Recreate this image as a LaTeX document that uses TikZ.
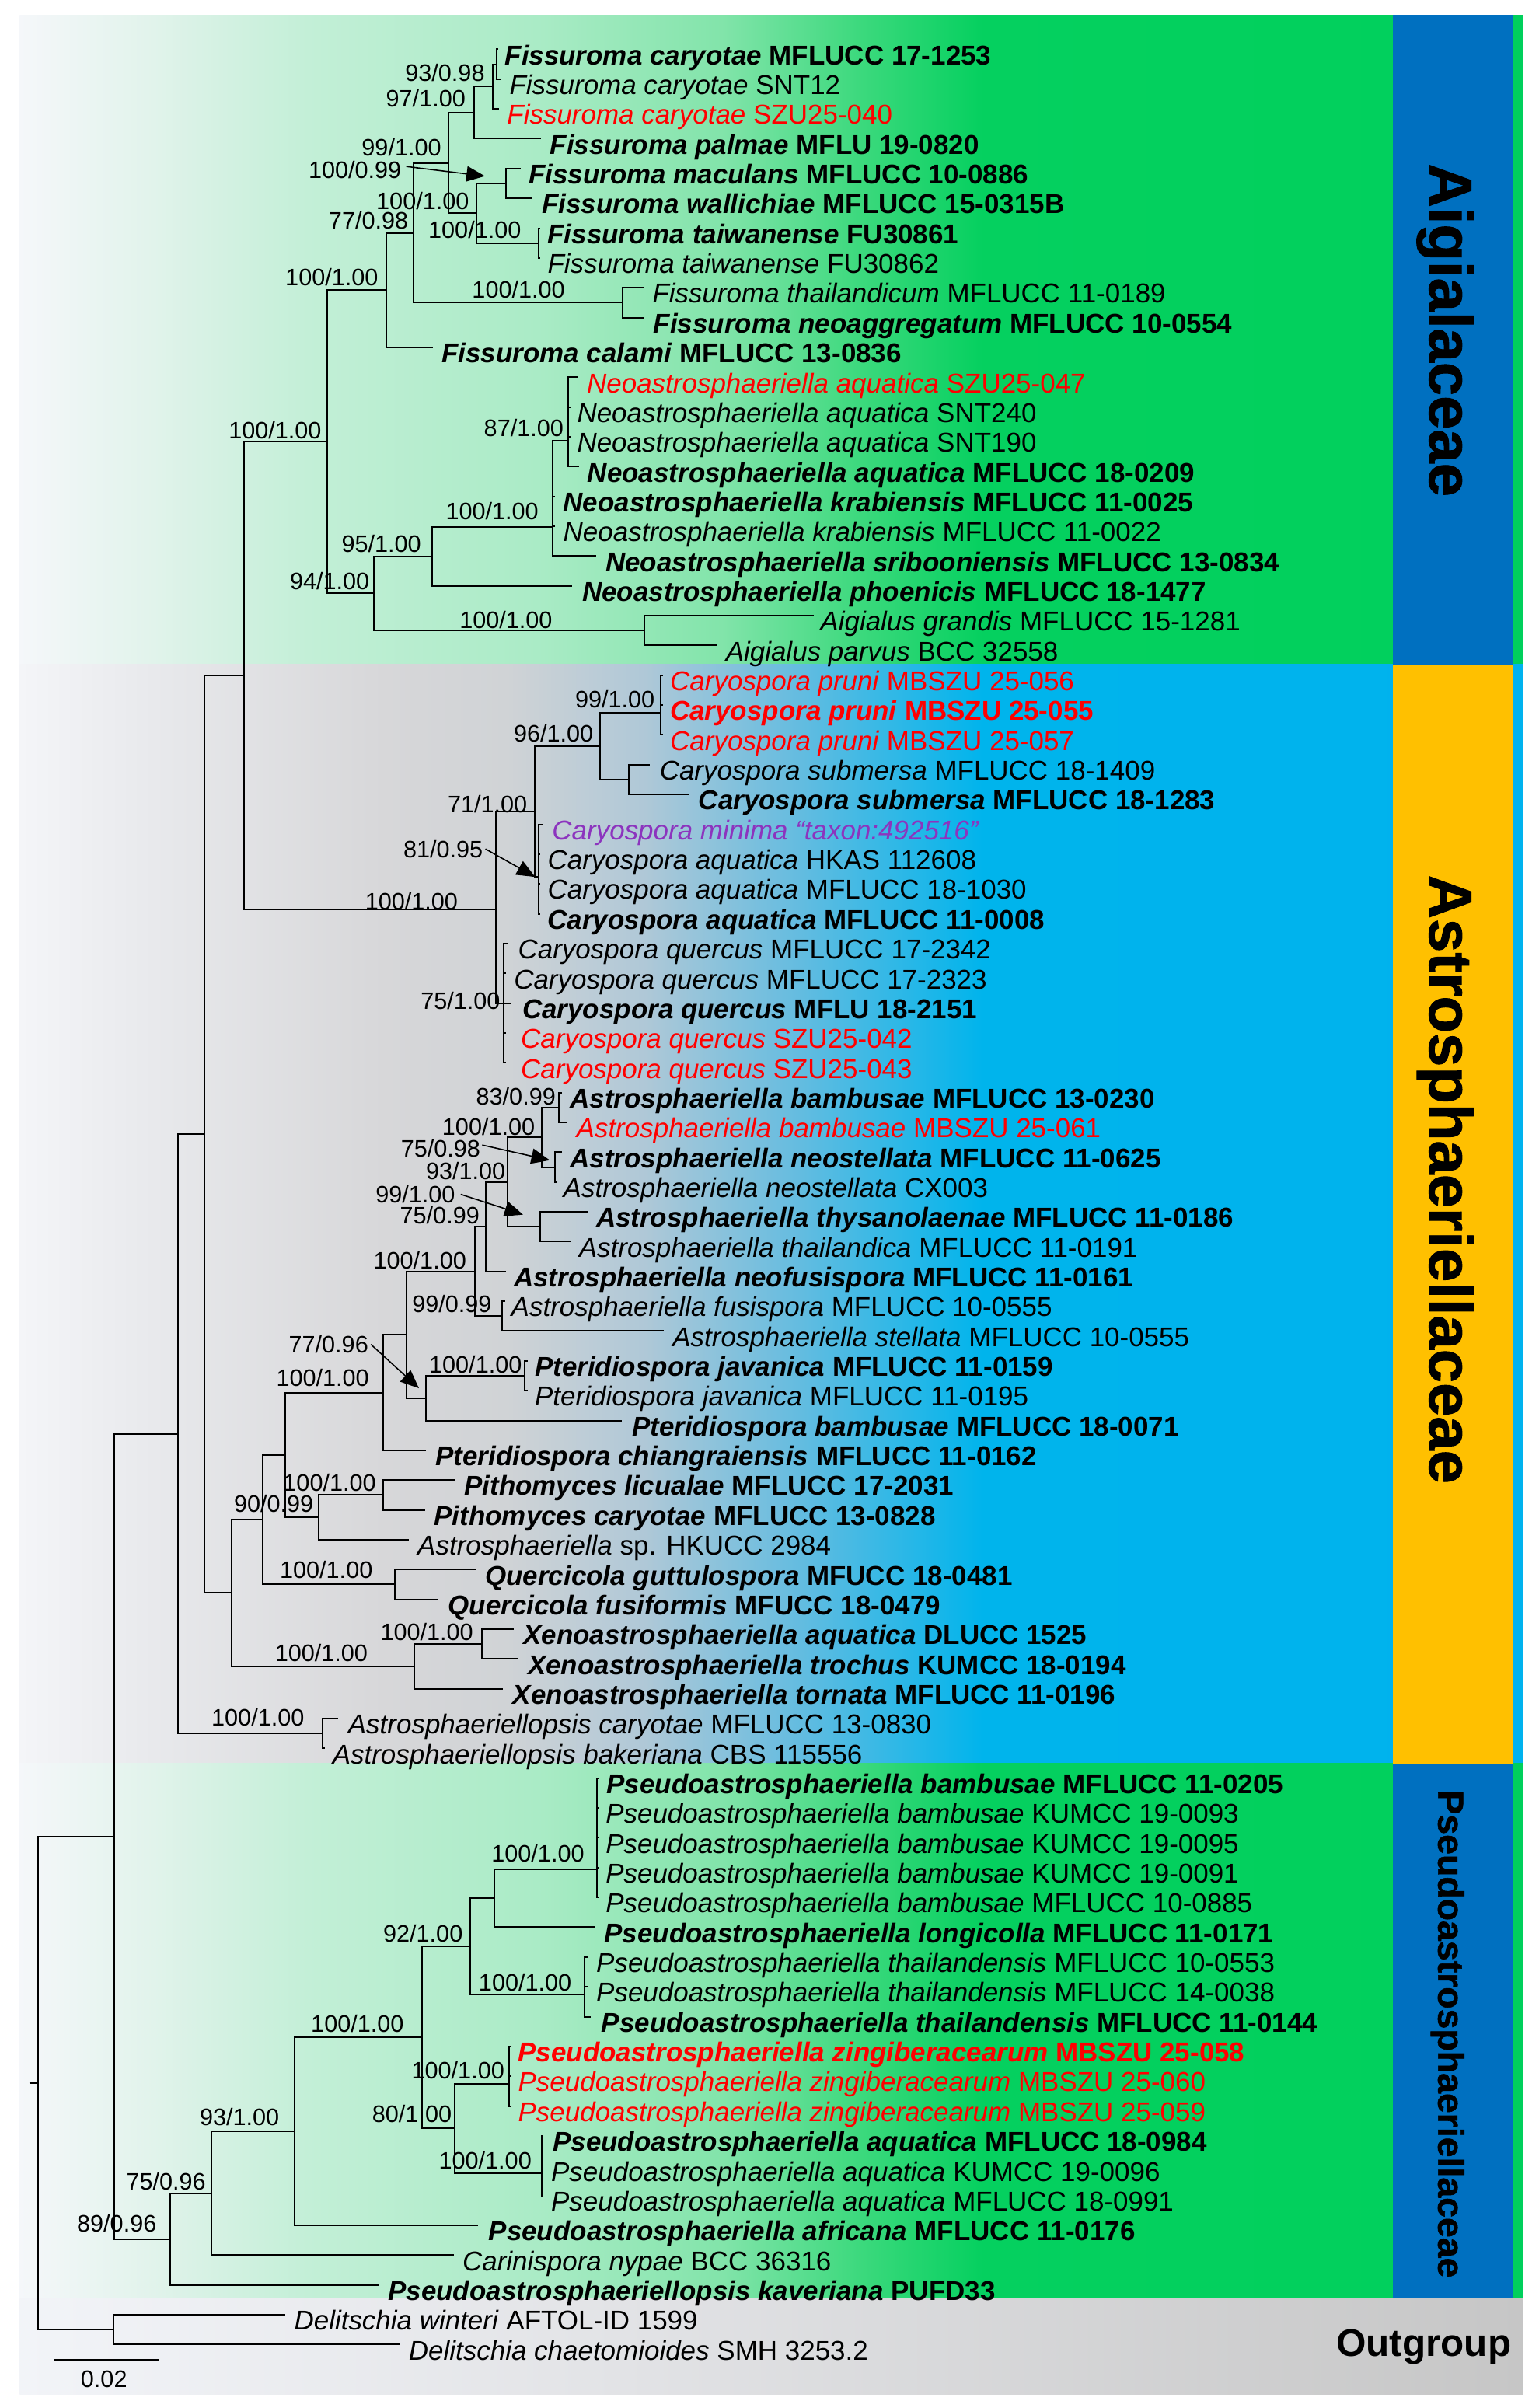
\documentclass[tikz,border=0pt]{standalone}
\usepackage{fontspec}
\usepackage{graphicx}
\setmainfont{Liberation Sans}
\newfontfamily\famfont[BoldFeatures={FakeBold=1.2}]{Liberation Sans}
\usetikzlibrary{arrows.meta}

\definecolor{gA}{RGB}{245,247,250}
\definecolor{gB}{RGB}{225,243,235}
\definecolor{gC}{RGB}{195,239,215}
\definecolor{gD}{RGB}{170,235,198}
\definecolor{gE}{RGB}{130,228,170}
\definecolor{gF}{RGB}{60,217,125}
\definecolor{gG}{RGB}{5,208,95}
\definecolor{gH}{RGB}{0,208,92}
\definecolor{aA}{RGB}{244,245,248}
\definecolor{aB}{RGB}{232,233,236}
\definecolor{aC}{RGB}{215,215,217}
\definecolor{aD}{RGB}{208,211,214}
\definecolor{aE}{RGB}{175,200,215}
\definecolor{aF}{RGB}{100,188,224}
\definecolor{aG}{RGB}{0,180,236}
\definecolor{aH}{RGB}{0,178,238}
\definecolor{oA}{RGB}{242,244,248}
\definecolor{oB}{RGB}{226,227,230}
\definecolor{oC}{RGB}{198,198,198}
\definecolor{barblue}{RGB}{0,112,192}
\definecolor{baryellow}{RGB}{255,192,0}
\definecolor{tred}{RGB}{255,0,0}
\definecolor{tpurple}{RGB}{140,52,190}

\pgfdeclarehorizontalshading{greenband}{100bp}{color(0bp)=(gA); color(25bp)=(gA); color(29.45bp)=(gB); color(34.56bp)=(gC); color(42.22bp)=(gD); color(48.35bp)=(gE); color(52.95bp)=(gF); color(57.04bp)=(gG); color(75bp)=(gH); color(100bp)=(gH)}
\pgfdeclarehorizontalshading{astroband}{100bp}{color(0bp)=(aA); color(25bp)=(aA); color(29.45bp)=(aB); color(37.12bp)=(aC); color(41.2bp)=(aD); color(45.8bp)=(aE); color(50.91bp)=(aF); color(57.04bp)=(aG); color(75bp)=(aH); color(100bp)=(aH)}
\pgfdeclarehorizontalshading{outband}{100bp}{color(0bp)=(oA); color(25bp)=(oA); color(45bp)=(oB); color(75bp)=(oC); color(100bp)=(oC)}

\newcommand\spB[2]{\textbf{\textit{#1} #2}}
\newcommand\spN[2]{\textit{#1} #2}
\newcommand\tip[6][black]{%
  \coordinate (#2) at (#4,{32.1+19.41*(#3-1)});
  \node[tax,text=#1] (#2-t) at (#5,{32.1+19.41*(#3-1)+10}) {#6};}

\begin{document}
\begin{tikzpicture}[x=1pt,y=-1pt,
  tax/.style={inner sep=0pt,anchor=base west,font=\fontsize{17.7}{20}\selectfont},
  lab/.style={inner sep=0pt,anchor=east,font=\fontsize{15.5}{17}\selectfont},
  br/.style={line width=1pt,black},
  arr/.style={line width=0.8pt,black,-{Triangle[length=12pt,width=10pt]}},
  fam/.style={inner sep=0pt,anchor=base,rotate=-90,font=\famfont\bfseries\fontsize{39.4}{42}\selectfont}]
\useasboundingbox (0,0) rectangle (1002,1568);
\fill[white] (0,0) rectangle (1002,1568);

% background bands
\shade[shading=greenband] (12.8,9.7) rectangle (991.7,432.5);
\shade[shading=astroband] (12.8,432.5) rectangle (991.7,1148.4);
\shade[shading=greenband] (12.8,1148.4) rectangle (991.7,1496.8);
\shade[shading=outband] (12.8,1496.8) rectangle (991.7,1559);
\fill[barblue] (907,9.7) rectangle (984.8,432.5);
\fill[baryellow] (907,432.5) rectangle (984.8,1148.4);
\fill[barblue] (907,1148.4) rectangle (984.8,1496.8);

\node[fam] (famA) at (930.8,215) {Aigialaceae};
\node[fam] (famB) at (930.8,768) {Astrosphaeriellaceae};
\node[fam,font=\famfont\bfseries\fontsize{23.5}{25}\selectfont] (famC) at (936.5,1324.5) {Pseudoastrosphaeriellaceae};
\node[inner sep=0pt,anchor=base west,font=\bfseries\fontsize{25}{27}\selectfont] (famD) at (870,1534.4) {Outgroup};

% tips
\tip{t1}{1}{324.5}{328.6}{\spB{Fissuroma caryotae}{MFLUCC 17-1253}}
\tip{t2}{2}{326.5}{331.6}{\spN{Fissuroma caryotae}{SNT12}}
\tip[tred]{t3}{3}{325}{330}{\spN{Fissuroma caryotae}{SZU25-040}}
\tip{t4}{4}{352.4}{358}{\spB{Fissuroma palmae}{MFLU 19-0820}}
\tip{t5}{5}{339}{344}{\spB{Fissuroma maculans}{MFLUCC 10-0886}}
\tip{t6}{6}{346.7}{352.6}{\spB{Fissuroma wallichiae}{MFLUCC 15-0315B}}
\tip{t7}{7}{352}{356.4}{\spB{Fissuroma taiwanense}{FU30861}}
\tip{t8}{8}{352}{356.4}{\spN{Fissuroma taiwanense}{FU30862}}
\tip{t9}{9}{419.7}{424.7}{\spN{Fissuroma thailandicum}{MFLUCC 11-0189}}
\tip{t10}{10}{419.7}{425.4}{\spB{Fissuroma neoaggregatum}{MFLUCC 10-0554}}
\tip{t11}{11}{281.9}{287.5}{\spB{Fissuroma calami}{MFLUCC 13-0836}}
\tip[tred]{t12}{12}{376.8}{382}{\spN{Neoastrosphaeriella aquatica}{SZU25-047}}
\tip{t13}{13}{371.5}{375.6}{\spN{Neoastrosphaeriella aquatica}{SNT240}}
\tip{t14}{14}{371.5}{375.6}{\spN{Neoastrosphaeriella aquatica}{SNT190}}
\tip{t15}{15}{377}{382.4}{\spB{Neoastrosphaeriella aquatica}{MFLUCC 18-0209}}
\tip{t16}{16}{361.5}{366.6}{\spB{Neoastrosphaeriella krabiensis}{MFLUCC 11-0025}}
\tip{t17}{17}{361.5}{366.6}{\spN{Neoastrosphaeriella krabiensis}{MFLUCC 11-0022}}
\tip{t18}{18}{388}{394.2}{\spB{Neoastrosphaeriella sribooniensis}{MFLUCC 13-0834}}
\tip{t19}{19}{372.3}{379}{\spB{Neoastrosphaeriella phoenicis}{MFLUCC 18-1477}}
\tip{t20}{20}{530}{534}{\spN{Aigialus grandis}{MFLUCC 15-1281}}
\tip{t21}{21}{467}{472.4}{\spN{Aigialus parvus}{BCC 32558}}
\tip[tred]{t22}{22}{431.5}{436.2}{\spN{Caryospora pruni}{MBSZU 25-056}}
\tip[tred]{t23}{23}{431.5}{436.2}{\spB{Caryospora pruni}{MBSZU 25-055}}
\tip[tred]{t24}{24}{431.5}{436.2}{\spN{Caryospora pruni}{MBSZU 25-057}}
\tip{t25}{25}{423.1}{429.4}{\spN{Caryospora submersa}{MFLUCC 18-1409}}
\tip{t26}{26}{448.4}{454.7}{\spB{Caryospora submersa}{MFLUCC 18-1283}}
\tip[tpurple]{t27}{27}{354}{359.4}{\textit{Caryospora minima “taxon:492516”}}
\tip{t28}{28}{352}{356.4}{\spN{Caryospora aquatica}{HKAS 112608}}
\tip{t29}{29}{352}{356.4}{\spN{Caryospora aquatica}{MFLUCC 18-1030}}
\tip{t30}{30}{352}{356.4}{\spB{Caryospora aquatica}{MFLUCC 11-0008}}
\tip{t31}{31}{331}{337.2}{\spN{Caryospora quercus}{MFLUCC 17-2342}}
\tip{t32}{32}{329.5}{334.5}{\spN{Caryospora quercus}{MFLUCC 17-2323}}
\tip{t33}{33}{332.7}{340}{\spB{Caryospora quercus}{MFLU 18-2151}}
\tip[tred]{t34}{34}{329.5}{339}{\spN{Caryospora quercus}{SZU25-042}}
\tip[tred]{t35}{35}{329.5}{339}{\spN{Caryospora quercus}{SZU25-043}}
\tip{t36}{36}{366}{371.1}{\spB{Astrosphaeriella bambusae}{MFLUCC 13-0230}}
\tip[tred]{t37}{37}{369.5}{375.2}{\spN{Astrosphaeriella bambusae}{MBSZU 25-061}}
\tip{t38}{38}{366}{371.1}{\spB{Astrosphaeriella neostellata}{MFLUCC 11-0625}}
\tip{t39}{39}{362.5}{366.6}{\spN{Astrosphaeriella neostellata}{CX003}}
\tip{t40}{40}{382.4}{388}{\spB{Astrosphaeriella thysanolaenae}{MFLUCC 11-0186}}
\tip{t41}{41}{371.6}{376.8}{\spN{Astrosphaeriella thailandica}{MFLUCC 11-0191}}
\tip{t42}{42}{329.3}{334.5}{\spB{Astrosphaeriella neofusispora}{MFLUCC 11-0161}}
\tip{t43}{43}{329}{332.7}{\spN{Astrosphaeriella fusispora}{MFLUCC 10-0555}}
\tip{t44}{44}{432.1}{437.8}{\spN{Astrosphaeriella stellata}{MFLUCC 10-0555}}
\tip{t45}{45}{343.5}{348.1}{\spB{Pteridiospora javanica}{MFLUCC 11-0159}}
\tip{t46}{46}{343.5}{348.1}{\spN{Pteridiospora javanica}{MFLUCC 11-0195}}
\tip{t47}{47}{405}{411.4}{\spB{Pteridiospora bambusae}{MFLUCC 18-0071}}
\tip{t48}{48}{277.3}{283.4}{\spB{Pteridiospora chiangraiensis}{MFLUCC 11-0162}}
\tip{t49}{49}{296.5}{302.2}{\spB{Pithomyces licualae}{MFLUCC 17-2031}}
\tip{t50}{50}{276.7}{282.5}{\spB{Pithomyces caryotae}{MFLUCC 13-0828}}
\tip{t51}{51}{266}{271.7}{\textit{Astrosphaeriella} sp. HKUCC 2984}
\tip{t52}{52}{310.1}{315.8}{\spB{Quercicola guttulospora}{MFUCC 18-0481}}
\tip{t53}{53}{285.2}{291.6}{\spB{Quercicola fusiformis}{MFUCC 18-0479}}
\tip{t54}{54}{334.5}{340.6}{\spB{Xenoastrosphaeriella aquatica}{DLUCC 1525}}
\tip{t55}{55}{337.7}{343.5}{\spB{Xenoastrosphaeriella trochus}{KUMCC 18-0194}}
\tip{t56}{56}{327.7}{333.8}{\spB{Xenoastrosphaeriella tornata}{MFLUCC 11-0196}}
\tip{t57}{57}{220.3}{226.5}{\spN{Astrosphaeriellopsis caryotae}{MFLUCC 13-0830}}
\tip{t58}{58}{211.5}{216.3}{\spN{Astrosphaeriellopsis bakeriana}{CBS 115556}}
\tip{t59}{59}{390}{394.9}{\spB{Pseudoastrosphaeriella bambusae}{MFLUCC 11-0205}}
\tip{t60}{60}{389.5}{394.2}{\spN{Pseudoastrosphaeriella bambusae}{KUMCC 19-0093}}
\tip{t61}{61}{389.5}{394.2}{\spN{Pseudoastrosphaeriella bambusae}{KUMCC 19-0095}}
\tip{t62}{62}{389.5}{394.2}{\spN{Pseudoastrosphaeriella bambusae}{KUMCC 19-0091}}
\tip{t63}{63}{389.5}{394.2}{\spN{Pseudoastrosphaeriella bambusae}{MFLUCC 10-0885}}
\tip{t64}{64}{387}{393.3}{\spB{Pseudoastrosphaeriella longicolla}{MFLUCC 11-0171}}
\tip{t65}{65}{383}{388.1}{\spN{Pseudoastrosphaeriella thailandensis}{MFLUCC 10-0553}}
\tip{t66}{66}{383}{388.1}{\spN{Pseudoastrosphaeriella thailandensis}{MFLUCC 14-0038}}
\tip{t67}{67}{384.7}{391.5}{\spB{Pseudoastrosphaeriella thailandensis}{MFLUCC 11-0144}}
\tip[tred]{t68}{68}{332.5}{337.2}{\spB{Pseudoastrosphaeriella zingiberacearum}{MBSZU 25-058}}
\tip[tred]{t69}{69}{332.5}{337.2}{\spN{Pseudoastrosphaeriella zingiberacearum}{MBSZU 25-060}}
\tip[tred]{t70}{70}{332.5}{337.2}{\spN{Pseudoastrosphaeriella zingiberacearum}{MBSZU 25-059}}
\tip{t71}{71}{354}{359.8}{\spB{Pseudoastrosphaeriella aquatica}{MFLUCC 18-0984}}
\tip{t72}{72}{353.5}{358.7}{\spN{Pseudoastrosphaeriella aquatica}{KUMCC 19-0096}}
\tip{t73}{73}{353.5}{358.7}{\spN{Pseudoastrosphaeriella aquatica}{MFLUCC 18-0991}}
\tip{t74}{74}{311.2}{318}{\spB{Pseudoastrosphaeriella africana}{MFLUCC 11-0176}}
\tip{t75}{75}{295.4}{301}{\spN{Carinispora nypae}{BCC 36316}}
\tip{t76}{76}{246.4}{252.5}{\spB{Pseudoastrosphaeriellopsis kaveriana}{PUFD33}}
\tip{t77}{77}{185.7}{191.4}{\spN{Delitschia winteri}{AFTOL-ID 1599}}
\tip{t78}{78}{260.3}{266}{\spN{Delitschia chaetomioides}{SMH 3253.2}}

% internal nodes
\coordinate (G) at (323.3,41.8);
\coordinate (F6) at (321,56.35);
\coordinate (F4) at (308.5,73.3);
\coordinate (MW) at (329.3,119.45);
\coordinate (TW) at (350.8,158.3);
\coordinate (F5) at (310.1,138.9);
\coordinate (F3) at (292,106.1);
\coordinate (TN) at (405.5,197.1);
\coordinate (F2) at (269.2,151.6);
\coordinate (F1) at (251.3,188.9);
\coordinate (N3) at (370,286.8);
\coordinate (N2) at (359.8,343);
\coordinate (N1) at (281.2,362.25);
\coordinate (AG) at (419.8,410.6);
\coordinate (N0) at (243.6,386.4);
\coordinate (AIG) at (213,287.65);
\coordinate (PR) at (430.3,463.95);
\coordinate (SB) at (409.5,507.65);
\coordinate (K2) at (390.8,485.8);
\coordinate (AQ) at (350.8,571);
\coordinate (K1) at (348.1,528.4);
\coordinate (Q) at (328.2,653.2);
\coordinate (E) at (323,592);
\coordinate (C) at (158.7,439.8);
\coordinate (BB) at (363.9,721.2);
\coordinate (NS) at (361.6,760);
\coordinate (B1) at (352.6,740.6);
\coordinate (TT) at (351.9,798.8);
\coordinate (B2) at (330.4,769.7);
\coordinate (B3) at (316.4,798.8);
\coordinate (FS) at (327,857);
\coordinate (B4) at (309,827.9);
\coordinate (JV) at (341.7,895.85);
\coordinate (PT) at (277.3,910.4);
\coordinate (B5) at (264.9,869.15);
\coordinate (B6) at (249.5,906.8);
\coordinate (PI2) at (249.5,973.5);
\coordinate (PI) at (207.3,988.05);
\coordinate (B7) at (185.8,947.4);
\coordinate (QC) at (257,1031.7);
\coordinate (B8) at (171.2,989.55);
\coordinate (XP) at (314,1070.5);
\coordinate (X1) at (269.9,1085.1);
\coordinate (D) at (150.7,1037.3);
\coordinate (B) at (133.3,738.55);
\coordinate (AP) at (210.2,1128.8);
\coordinate (A) at (115.8,933.7);
\coordinate (PB) at (388.7,1217.3);
\coordinate (P6) at (321.9,1236.1);
\coordinate (TH) at (380.6,1298.6);
\coordinate (P4) at (306,1267.35);
\coordinate (ZG) at (331.6,1356.85);
\coordinate (PA) at (352.6,1415.05);
\coordinate (P5) at (295.9,1385.95);
\coordinate (P3) at (274.6,1326.65);
\coordinate (P2) at (191.9,1387.8);
\coordinate (P1) at (137.9,1428.1);
\coordinate (P0) at (110.6,1458);
\coordinate (ING) at (74.5,1195.85);
\coordinate (OG) at (73.9,1517);
\coordinate (ROOT) at (24.8,1356.4);
\coordinate (rstub) at (19,1356.4);

% branches
\foreach \p/\c in {G/t1,G/t2,F6/G,F6/t3,F4/F6,F4/t4,MW/t5,MW/t6,TW/t7,TW/t8,
  F5/MW,F5/TW,F3/F4,F3/F5,TN/t9,TN/t10,F2/F3,F2/TN,F1/F2,F1/t11,
  N3/t12,N3/t13,N3/t14,N3/t15,N2/N3,N2/t16,N2/t17,N2/t18,N1/N2,N1/t19,
  AG/t20,AG/t21,N0/N1,N0/AG,AIG/F1,AIG/N0,
  PR/t22,PR/t23,PR/t24,SB/t25,SB/t26,K2/PR,K2/SB,AQ/t27,AQ/t28,AQ/t29,AQ/t30,
  K1/K2,K1/AQ,Q/t31,Q/t32,Q/t33,Q/t34,Q/t35,E/K1,E/Q,C/AIG,C/E,
  BB/t36,BB/t37,NS/t38,NS/t39,B1/BB,B1/NS,TT/t40,TT/t41,B2/B1,B2/TT,B3/B2,B3/t42,
  FS/t43,FS/t44,B4/B3,B4/FS,JV/t45,JV/t46,PT/JV,PT/t47,B5/B4,B5/PT,B6/B5,B6/t48,
  PI2/t49,PI2/t50,PI/PI2,PI/t51,B7/B6,B7/PI,QC/t52,QC/t53,B8/B7,B8/QC,
  XP/t54,XP/t55,X1/XP,X1/t56,D/B8,D/X1,B/C,B/D,AP/t57,AP/t58,A/B,A/AP,
  PB/t59,PB/t60,PB/t61,PB/t62,PB/t63,P6/PB,P6/t64,TH/t65,TH/t66,TH/t67,P4/P6,P4/TH,
  ZG/t68,ZG/t69,ZG/t70,PA/t71,PA/t72,PA/t73,P5/ZG,P5/PA,P3/P4,P3/P5,P2/P3,P2/t74,
  P1/P2,P1/t75,P0/P1,P0/t76,ING/A,ING/P0,OG/t77,OG/t78,ROOT/ING,ROOT/OG}
  {\draw[br] (\p) |- (\c);}
\draw[br] (rstub) -- (ROOT);

% support labels
\node[lab] (lF6) at (315.8,47.5) {93/0.98};
\node[lab] (lF4) at (303.3,64.2) {97/1.00};
\node[lab] (lF3) at (287.5,96) {99/1.00};
\node[lab] (lMW) at (261.5,110.4) {100/0.99};
\node[lab] (lF5) at (305.6,130.8) {100/1.00};
\node[lab] (lF2) at (266,143.3) {77/0.98};
\node[lab] (lTW) at (339.5,149.5) {100/1.00};
\node[lab] (lF1) at (246.4,180.6) {100/1.00};
\node[lab] (lTN) at (368,188.5) {100/1.00};
\node[lab] (lAIG) at (209.5,280) {100/1.00};
\node[lab] (lN3) at (367.1,278.8) {87/1.00};
\node[lab] (lN2) at (350.8,332.8) {100/1.00};
\node[lab] (lN1) at (274.4,353.9) {95/1.00};
\node[lab] (lN0) at (240.7,378.3) {94/1.00};
\node[lab] (lAG) at (359.8,403.6) {100/1.00};
\node[lab] (lPR) at (426.5,455.1) {99/1.00};
\node[lab] (lK2) at (386.5,477.7) {96/1.00};
\node[lab] (lK1) at (343.5,523.7) {71/1.00};
\node[lab] (lAQ) at (314.6,552.8) {81/0.95};
\node[lab] (lE) at (298.3,587.1) {100/1.00};
\node[lab] (lQ) at (325.9,651.8) {75/1.00};
\node[lab] (lBB) at (362,714) {83/0.99};
\node[lab] (lB1) at (348.5,733.6) {100/1.00};
\node[lab] (lNS) at (313,747.6) {75/0.98};
\node[lab] (lB2) at (329.3,762.5) {93/1.00};
\node[lab] (lTT) at (296.5,777.7) {99/1.00};
\node[lab] (lB3) at (312.4,791.6) {75/0.99};
\node[lab] (lB4) at (303.8,820.7) {100/1.00};
\node[lab] (lFS) at (320.3,849.3) {99/0.99};
\node[lab] (lPT) at (240,875.4) {77/0.96};
\node[lab] (lJV) at (340,888.4) {100/1.00};
\node[lab] (lB6) at (240.5,897) {100/1.00};
\node[lab] (lPI2) at (245,965.7) {100/1.00};
\node[lab] (lPI) at (204.3,979.1) {90/0.99};
\node[lab] (lQC) at (242.8,1022.2) {100/1.00};
\node[lab] (lXP) at (308.3,1062.5) {100/1.00};
\node[lab] (lX1) at (239.6,1076.1) {100/1.00};
\node[lab] (lAP) at (198.3,1118.4) {100/1.00};
\node[lab] (lPB) at (380.6,1207.1) {100/1.00};
\node[lab] (lP4) at (301.5,1258.9) {92/1.00};
\node[lab] (lTH) at (372.3,1290.7) {100/1.00};
\node[lab] (lP3) at (263.1,1317.8) {100/1.00};
\node[lab] (lZG) at (328.6,1347.9) {100/1.00};
\node[lab] (lP5) at (294.3,1376.5) {80/1.00};
\node[lab] (lP2) at (182,1378.3) {93/1.00};
\node[lab] (lPA) at (346.3,1406.8) {100/1.00};
\node[lab] (lP1) at (134.2,1420.3) {75/0.96};
\node[lab] (lP0) at (102.1,1448) {89/0.96};

% arrows from labels
\coordinate (aMW) at (315.8,114.7);
\coordinate (aAQ) at (348.5,571);
\coordinate (aNS) at (358,755.5);
\coordinate (aTT) at (340.6,790.9);
\coordinate (aPT) at (272.8,904);
\draw[arr] ([xshift=3pt,yshift=2pt]lMW.east) -- (aMW);
\draw[arr] ([xshift=1.5pt]lAQ.east) -- (aAQ);
\draw[arr] ([xshift=1pt,yshift=2pt]lNS.east) -- (aNS);
\draw[arr] ([xshift=3.5pt]lTT.east) -- (aTT);
\draw[arr] ([xshift=1.5pt]lPT.east) -- (aPT);

% scale bar
\coordinate (sb1) at (35.2,1536.5);
\coordinate (sb2) at (103.6,1536.5);
\draw[br] (sb1) -- (sb2);
\node[lab,anchor=center] (sbl) at (67.7,1549) {0.02};
\end{tikzpicture}
\end{document}
